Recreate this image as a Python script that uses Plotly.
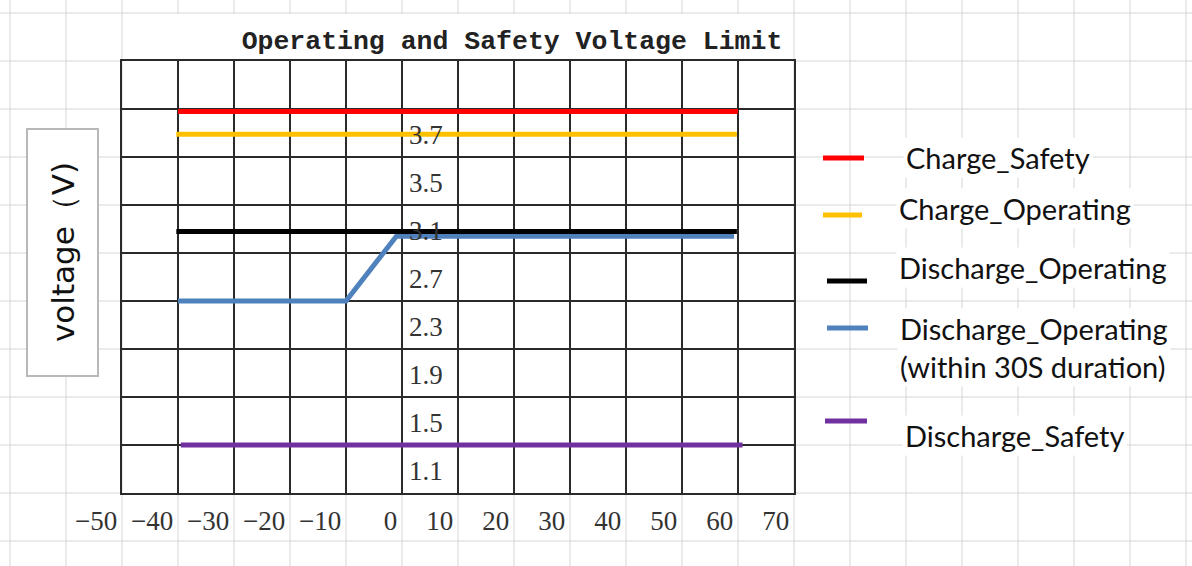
import plotly.graph_objects as go

# ---------------- data ----------------
x_ticks = [-50, -40, -30, -20, -10, 0, 10, 20, 30, 40, 50, 60, 70]
y_label_text = ["3.7", "3.5", "3.1", "2.7", "2.3", "1.9", "1.5", "1.1"]
y_label_vals = [3.9, 3.5, 3.1, 2.7, 2.3, 1.9, 1.5, 1.1]
y_range = [0.9, 4.5]
y_step = 0.4

series_names = ["Charge_Safety", "Charge_Operating", "Discharge_Operating",
                "Discharge_Operating<br>(within 30S duration)", "Discharge_Safety"]
charge_safety_x = [-40, 60]
charge_safety_y = [4.08, 4.08]
charge_operating_x = [-40.3, 59.8]
charge_operating_y = [3.89, 3.89]
discharge_operating_x = [-40.3, 59.8]
discharge_operating_y = [3.08, 3.08]
discharge_30s_x = [-40, -10, -1, 59.3]
discharge_30s_y = [2.5, 2.5, 3.04, 3.04]
discharge_safety_x = [-39.5, 60.8]
discharge_safety_y = [1.3, 1.3]

colors = ["#FF0000", "#FFC000", "#000000", "#4F81BD", "#7030A0"]

# ---------------- layout helpers (pixels -> paper) ----------------
W, H = 1192, 566
L, R, T, B = 122, 794, 61, 493


def px_x(p):
    return (p - L) / (R - L)


def px_y(p):
    return (B - p) / (B - T)


fig = go.Figure()

xs = [charge_safety_x, charge_operating_x, discharge_30s_x, discharge_operating_x, discharge_safety_x]
ys = [charge_safety_y, charge_operating_y, discharge_30s_y, discharge_operating_y, discharge_safety_y]
order = [0, 1, 3, 2, 4]
for xv, yv, idx in zip(xs, ys, order):
    fig.add_trace(go.Scatter(x=xv, y=yv, mode="lines", name=series_names[idx].replace("<br>", " "),
                             line=dict(color=colors[idx], width=5), showlegend=False,
                             hoverinfo="skip"))

shapes = []
light = dict(color="#d6d6d6", width=1)
# spreadsheet background grid: columns
for k in range(22):
    p = 10 + 56 * k
    if L < p < R:
        shapes.append(dict(type="line", xref="paper", yref="paper", x0=px_x(p), x1=px_x(p),
                           y0=px_y(0), y1=px_y(14), line=light, layer="below"))
        shapes.append(dict(type="line", xref="paper", yref="paper", x0=px_x(p), x1=px_x(p),
                           y0=px_y(B), y1=px_y(H), line=light, layer="below"))
    else:
        shapes.append(dict(type="line", xref="paper", yref="paper", x0=px_x(p), x1=px_x(p),
                           y0=px_y(0), y1=px_y(H), line=light, layer="below"))
# rows
for k in range(12):
    p = 13 + 48 * k
    if T <= p <= B:
        shapes.append(dict(type="line", xref="paper", yref="paper", x0=px_x(0), x1=px_x(L),
                           y0=px_y(p), y1=px_y(p), line=light, layer="below"))
        shapes.append(dict(type="line", xref="paper", yref="paper", x0=px_x(R), x1=px_x(W),
                           y0=px_y(p), y1=px_y(p), line=light, layer="below"))
    else:
        shapes.append(dict(type="line", xref="paper", yref="paper", x0=px_x(0), x1=px_x(W),
                           y0=px_y(p), y1=px_y(p), line=light, layer="below"))

# title area (white chart area)
shapes.append(dict(type="rect", xref="paper", yref="paper", x0=px_x(L + 1), x1=px_x(R - 1),
                   y0=px_y(T - 1), y1=px_y(14), fillcolor="white", line=dict(width=0), layer="below"))
# y title box
shapes.append(dict(type="rect", xref="paper", yref="paper", x0=px_x(27), x1=px_x(98),
                   y0=px_y(376), y1=px_y(129), fillcolor="white",
                   line=dict(color="#b8b8b8", width=2), layer="below"))

annotations = []
# y-axis title
annotations.append(dict(xref="paper", yref="paper", x=px_x(63), y=px_y(252), text="voltage（V)",
                        textangle=-90, showarrow=False, xanchor="center", yanchor="middle",
                        font=dict(family="DejaVu Sans", size=31, color="#111111")))
# inner y labels
for txt, v in zip(y_label_text, y_label_vals):
    annotations.append(dict(xref="x", yref="y", x=0, y=v, text=txt, showarrow=False,
                            xanchor="left", yanchor="middle", xshift=5, yshift=-2,
                            font=dict(family="Liberation Serif", size=27, color="#333333")))

# manual legend
legend_swatch = [(823, 864, 158), (823, 862, 215), (827, 867, 281), (827, 868, 328), (825, 867, 421)]
legend_text_pos = [(903, 157), (896, 208), (896, 267), (897, 347), (902, 435)]
for i, name in enumerate(series_names):
    x0, x1, yy = legend_swatch[i]
    shapes.append(dict(type="line", xref="paper", yref="paper", x0=px_x(x0), x1=px_x(x1),
                       y0=px_y(yy), y1=px_y(yy), line=dict(color=colors[i], width=5)))
    tx, ty = legend_text_pos[i]
    annotations.append(dict(xref="paper", yref="paper", x=px_x(tx), y=px_y(ty), text=name,
                            showarrow=False, xanchor="left", yanchor="middle", align="left",
                            bgcolor="white", borderpad=2,
                            font=dict(family="Lato", size=29, color="#111111")))

fig.update_layout(
    width=W, height=H,
    margin=dict(l=L, r=W - R, t=T, b=H - B),
    paper_bgcolor="white", plot_bgcolor="white",
    title=dict(text="<b>Operating and Safety Voltage Limit</b>", x=512 / W, y=1 - 40 / H,
               xanchor="center", yanchor="middle", xref="container", yref="container",
               font=dict(family="Liberation Mono", size=26.5, color="#222222")),
    xaxis=dict(range=[x_ticks[0], x_ticks[-1]], tickmode="array", tickvals=x_ticks,
               showgrid=True, gridcolor="#2a2a2a", gridwidth=1.5, zeroline=False,
               showline=True, linecolor="#2a2a2a", linewidth=1.5, mirror=True,
               ticks="", ticklabelposition="outside left", ticklabelstandoff=3,
               ticklabelshift=-4,
               tickfont=dict(family="Liberation Serif", size=27, color="#333333")),
    yaxis=dict(range=y_range, tick0=y_range[0], dtick=y_step, showgrid=True,
               gridcolor="#2a2a2a", gridwidth=1.5, zeroline=False, showline=True,
               linecolor="#2a2a2a", linewidth=1.5, mirror=True, ticks="", showticklabels=False),
    shapes=shapes, annotations=annotations, showlegend=False,
)

fig.write_html("out.html", config={"displayModeBar": False},
               post_script="document.body.style.margin='0';document.body.style.overflow='hidden';")
